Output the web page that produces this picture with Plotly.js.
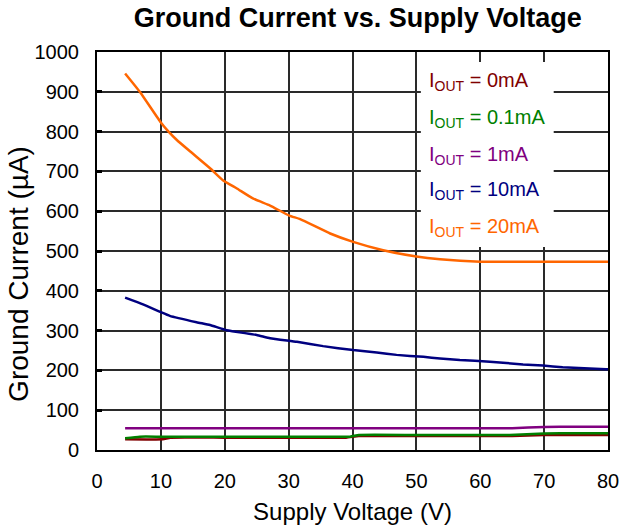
<!DOCTYPE html>
<html>
<head>
<meta charset="utf-8">
<script src="https://cdn.plot.ly/plotly-3.0.1.min.js"></script>
<style>html,body{margin:0;padding:0;background:#fff;}#chart{width:619px;height:530px;}</style>
</head>
<body>
<div id="chart"></div>
<script>
// Series data
const x20 = [4.4, 6.7, 9.9, 11.2, 12.5, 14.6, 17.7, 19.7, 21.9, 24.4, 27.1, 30.1, 31.8, 36.5, 40.1, 44.8, 50, 53.7, 60, 65, 70, 75, 80];
const y20 = [946, 900, 825, 800, 779, 750, 708, 678, 657, 632, 614, 589, 580, 544, 523, 502, 486, 479, 473, 473, 473, 473, 473];

const x10 = [4.4, 7.2, 9.9, 11.4, 15.6, 17.7, 20.3, 25, 27.1, 31.3, 35.4, 40.1, 43.8, 46.9, 51.1, 53.7, 56.8, 61.5, 66.7, 69.8, 72.9, 79.7, 80];
const y10 = [383, 366, 347, 337, 321, 314, 301, 289, 281, 272, 261, 251, 245, 239, 234, 230, 226, 222, 215, 212, 208, 203, 203];

const x1 = [4.4, 10, 20, 30, 40, 50, 60, 65, 70, 75, 80];
const y1 = [54.5, 54.5, 54.5, 54.5, 54.5, 54.5, 54.5, 54.5, 58, 58.5, 58.5];

const x01 = [4.4, 6.7, 10, 20, 30, 39.6, 41, 50, 60, 64.6, 70, 75, 80];
const y01 = [29.3, 33.5, 33.5, 33.5, 33.5, 33.5, 37.7, 37.7, 37.7, 37.7, 41.5, 42, 42];

const x0 = [4.4, 10.3, 11.5, 20, 30, 39, 41, 50, 60, 65, 70, 75, 80];
const y0 = [27, 27, 31, 31, 31, 31, 35, 35, 35, 35, 37.7, 37.7, 37.7];

const legendLabels = ["I<sub>OUT</sub> = 0mA", "I<sub>OUT</sub> = 0.1mA", "I<sub>OUT</sub> = 1mA", "I<sub>OUT</sub> = 10mA", "I<sub>OUT</sub> = 20mA"];
const legendY = [925, 832, 740, 652, 560];
const colors = ["#800000", "#008000", "#800080", "#000080", "#FF6600"];

const xTicks = [0, 10, 20, 30, 40, 50, 60, 70, 80];
const yTicks = [0, 100, 200, 300, 400, 500, 600, 700, 800, 900, 1000];

const seriesX = [x0, x01, x1, x10, x20];
const seriesY = [y0, y01, y1, y10, y20];

const traces = seriesX.map((xs, i) => ({
  x: xs, y: seriesY[i], type: 'scatter', mode: 'lines',
  line: {color: colors[i], width: 2.5, shape: 'spline', smoothing: 0.4},
  showlegend: false, hoverinfo: 'skip'
}));

const font = "Liberation Sans, Arial, sans-serif";

const annotations = legendLabels.map((t, i) => ({
  text: t, x: 51.6, y: legendY[i], xref: 'x', yref: 'y',
  xanchor: 'left', yanchor: 'middle', showarrow: false,
  font: {family: font, size: 20, color: colors[i]}
}));
annotations.push({
  text: 'Ground Current (µA)', textangle: -90, xref: 'paper', yref: 'paper',
  x: -0.155, y: 0.442, xanchor: 'center', yanchor: 'middle', showarrow: false,
  font: {family: font, size: 28, color: '#000'}
});

const layout = {
  width: 619, height: 530,
  margin: {l: 97, r: 11, t: 52, b: 80},
  paper_bgcolor: '#fff', plot_bgcolor: '#fff',
  font: {family: font, color: '#000'},
  title: {text: '<b>Ground Current vs. Supply Voltage</b>', font: {family: font, size: 27, color: '#000'},
          x: 0.578, xanchor: 'center', y: 0.967, yanchor: 'middle'},
  xaxis: {
    range: [0, 80], tickvals: xTicks, ticklabeloverflow: 'allow',
    showgrid: true, gridcolor: '#2a2a2a', gridwidth: 2, zeroline: false,
    showline: true, linecolor: '#000', linewidth: 2, mirror: true,
    ticks: '', ticklabelstandoff: 12, tickfont: {family: font, size: 20, color: '#000'},
    title: {text: 'Supply Voltage (V)', font: {family: font, size: 24, color: '#000'}, standoff: 12}
  },
  yaxis: {
    range: [0, 1000], tickvals: yTicks,
    showgrid: true, gridcolor: '#2a2a2a', gridwidth: 2, zeroline: false,
    showline: true, linecolor: '#000', linewidth: 2, mirror: true,
    ticks: 'inside', ticklen: 5, tickwidth: 3, tickcolor: '#000', ticklabelstandoff: 12,
    tickfont: {family: font, size: 20, color: '#000'}
  },
  shapes: [{type: 'rect', xref: 'x', yref: 'y', x0: 50.7, x1: 71.5, y0: 510, y1: 975,
            fillcolor: '#fff', line: {width: 0}, layer: 'between'}],
  annotations: annotations
};

Plotly.newPlot('chart', traces, layout, {displayModeBar: false, staticPlot: true});
</script>
</body>
</html>
